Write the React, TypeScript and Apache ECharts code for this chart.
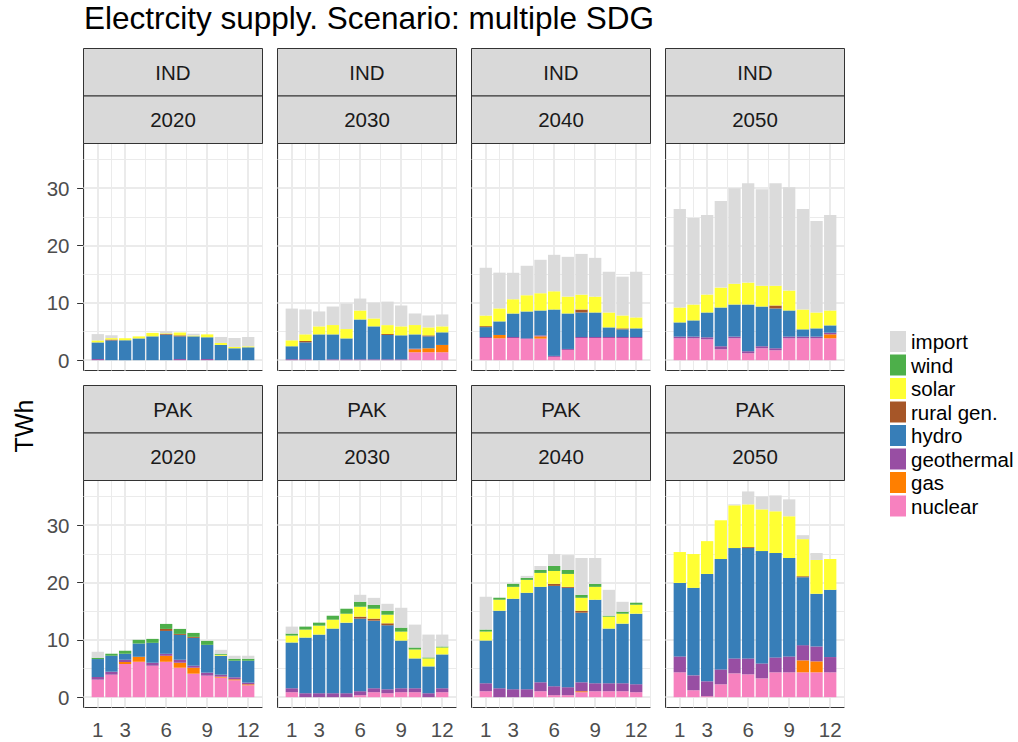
import React, { useEffect, useRef } from "react";
import * as echarts from "echarts";

const FONT = "'Liberation Sans', Arial, Helvetica, sans-serif";

const MONTHS = [1, 2, 3, 4, 5, 6, 7, 8, 9, 10, 11, 12];
const REGIONS = ["IND", "PAK"];
const YEARS = ["2020", "2030", "2040", "2050"];
const X_TICKS = [1, 3, 6, 9, 12];
const Y_TICKS = [0, 10, 20, 30];
const X_MINOR = [0, 2, 4.5, 7.5, 10.5, 13];
const Y_MINOR = [5, 15, 25, 35];

// legend order (top to bottom) and keys
const LEGEND = ["import", "wind", "solar", "rural gen.", "hydro", "geothermal", "gas", "nuclear"];
const KEYS = ["import", "wind", "solar", "rural", "hydro", "geothermal", "gas", "nuclear"];
const COLORS = ["#DBDBDB", "#4DAF4A", "#FFFF33", "#A65628", "#377EB8", "#984EA3", "#FF7F00", "#F781BF"];

const Z = [0, 0, 0, 0, 0, 0, 0, 0, 0, 0, 0, 0];

const IND_2020: Record<string, number[]> = {
  nuclear: Z,
  gas: Z,
  geothermal: [0.2, 0, 0, 0, 0, 0, 0.2, 0, 0.2, 0, 0, 0],
  hydro: [2.9, 3.45, 3.47, 3.8, 4.16, 4.45, 3.96, 4.16, 3.8, 2.66, 2.08, 2.25],
  rural: [0, 0.15, 0, 0, 0, 0.15, 0.17, 0, 0, 0, 0, 0],
  solar: [0.35, 0.25, 0.35, 0.35, 0.6, 0.1, 0.5, 0.15, 0.5, 0.35, 0.23, 0.17],
  wind: Z,
  import: [1.1, 0.5, 0, 0, 0, 0.35, 0, 0.3, 0, 1.04, 1.56, 1.62],
};

const IND_2030: Record<string, number[]> = {
  nuclear: [0, 0, 0, 0, 0, 0, 0, 0, 0, 1.39, 1.39, 1.39],
  gas: [0, 0, 0, 0, 0, 0, 0, 0, 0, 0.52, 0.69, 1.27],
  geothermal: [0.17, 0.17, 0, 0.15, 0.15, 0.15, 0.15, 0.15, 0.15, 0.1, 0, 0],
  hydro: [2.26, 2.95, 4.5, 4.35, 3.65, 6.95, 5.75, 4.24, 4.19, 2.49, 2.08, 2.2],
  rural: [0, 0.23, 0, 0, 0, 0, 0, 0.17, 0, 0, 0.17, 0],
  solar: [1.04, 1.16, 1.4, 1.63, 1.63, 1.57, 1.38, 1.56, 1.56, 1.63, 1.39, 1.04],
  wind: Z,
  import: [5.53, 4.34, 2.6, 3.23, 4.45, 2.08, 2.78, 4.1, 3.64, 2.02, 2.08, 2.08],
};

const IND_2040: Record<string, number[]> = {
  nuclear: [3.87, 3.82, 3.87, 3.7, 3.76, 0.58, 1.79, 3.87, 3.87, 3.87, 3.87, 3.87],
  gas: [0, 0.58, 0, 0, 0.4, 0, 0, 0, 0, 0, 0, 0],
  geothermal: [0.17, 0, 0.17, 0.12, 0.17, 0.17, 0.17, 0.17, 0.17, 0.17, 0.17, 0.17],
  hydro: [1.73, 2.37, 4.1, 4.68, 4.34, 8.09, 6.19, 4.28, 4.28, 1.68, 1.34, 1.51],
  rural: [0.17, 0, 0, 0, 0, 0, 0, 0.52, 0, 0, 0.17, 0],
  solar: [1.85, 2.26, 2.49, 2.83, 3.01, 3.18, 2.95, 2.6, 2.77, 2.6, 2.25, 1.91],
  wind: Z,
  import: [8.33, 6.24, 4.62, 5.14, 5.83, 6.36, 6.93, 7.1, 6.76, 7.11, 6.77, 7.97],
};

const IND_2050: Record<string, number[]> = {
  nuclear: [3.82, 3.82, 3.64, 1.91, 3.82, 1.21, 2.08, 1.73, 3.82, 3.82, 3.82, 3.82],
  gas: [0, 0, 0, 0, 0, 0, 0, 0, 0, 0, 0, 0.69],
  geothermal: [0.29, 0.29, 0.35, 0.52, 0.29, 0.35, 0.35, 0.35, 0.29, 0.29, 0.29, 0.29],
  hydro: [2.48, 2.83, 4.33, 6.76, 5.6, 8.15, 6.93, 6.94, 4.56, 1.27, 1.44, 1.27],
  rural: [0, 0, 0, 0, 0, 0, 0, 0.52, 0, 0, 0, 0],
  solar: [2.6, 2.77, 3.13, 3.47, 3.64, 3.82, 3.64, 3.46, 3.47, 3.46, 2.77, 2.6],
  wind: Z,
  import: [17.17, 15.09, 13.87, 15.09, 16.65, 17.34, 16.83, 17.87, 18.03, 17.52, 15.96, 16.65],
};

const PAK_2020: Record<string, number[]> = {
  nuclear: [3.06, 3.93, 5.78, 6.18, 5.49, 6.18, 5.14, 4.1, 3.76, 3.41, 2.95, 2.08],
  gas: [0, 0, 0.35, 0.87, 0, 1.04, 0.87, 1.04, 0, 0.17, 0.17, 0.17],
  geothermal: [0.46, 0.52, 0.4, 0, 0.52, 0.35, 0.52, 0.35, 0.52, 0.35, 0.35, 0.29],
  hydro: [3.13, 2.78, 1.04, 2.31, 3.47, 3.99, 4.34, 4.86, 4.85, 3.3, 2.89, 3.82],
  rural: [0, 0, 0, 0, 0, 0.35, 0.17, 0.17, 0, 0, 0, 0],
  solar: [0, 0, 0, 0, 0, 0, 0, 0, 0, 0.17, 0, 0],
  wind: [0.23, 0.35, 0.52, 0.64, 0.69, 0.87, 0.87, 0.69, 0.69, 0.17, 0.35, 0.35],
  import: [1.04, 0, 0, 0, 0, 0, 0, 0, 0, 0.69, 0.52, 0.52],
};

const PAK_2030: Record<string, number[]> = {
  nuclear: [0.87, 0, 0, 0, 0, 0.35, 0.87, 0.69, 0.87, 0.87, 0, 0.87],
  gas: Z,
  geothermal: [0.69, 0.69, 0.69, 0.69, 0.69, 0.69, 0.69, 0.69, 0.69, 0.69, 0.69, 0.69],
  hydro: [7.98, 9.71, 10.23, 11.27, 12.31, 12.66, 11.79, 11.16, 8.32, 5.2, 4.68, 5.9],
  rural: [0, 0, 0, 0, 0, 0.35, 0.35, 0.35, 0, 0, 0, 0],
  solar: [1.21, 1.39, 1.56, 1.56, 1.56, 1.73, 1.73, 1.5, 1.56, 1.56, 1.39, 1.21],
  wind: [0.35, 0.52, 0.52, 0.69, 0.87, 0.87, 0.69, 0.69, 0.69, 0.35, 0.17, 0.17],
  import: [1.21, 0, 0, 0, 0, 1.21, 1.21, 1.21, 3.47, 3.99, 3.99, 2.08],
};

const PAK_2040: Record<string, number[]> = {
  nuclear: [1.04, 0, 0, 0, 1.04, 0.35, 0.35, 0.87, 1.04, 1.04, 1.04, 0.87],
  gas: [0, 0, 0, 0, 0, 0, 0, 0.17, 0, 0, 0, 0],
  geothermal: [1.39, 1.56, 1.39, 1.39, 1.56, 1.56, 1.39, 1.56, 1.39, 1.39, 1.39, 1.39],
  hydro: [7.46, 13.53, 15.78, 16.82, 16.65, 17.51, 17.34, 12.14, 14.57, 9.54, 10.4, 12.31],
  rural: [0, 0, 0, 0, 0, 0.35, 0.17, 0.35, 0, 0, 0, 0],
  solar: [1.56, 1.91, 2.08, 2.25, 2.43, 2.25, 2.25, 2.25, 2.25, 2.08, 1.73, 1.56],
  wind: [0.35, 0.35, 0.52, 0.35, 0.52, 0.87, 0.69, 0.52, 0.52, 0.17, 0.35, 0.35],
  import: [5.72, 0, 0, 0.35, 0.69, 2.08, 2.6, 6.42, 4.51, 4.51, 1.73, 0],
};

const PAK_2050: Record<string, number[]> = {
  nuclear: [4.34, 1.21, 0.17, 2.25, 4.16, 3.99, 3.29, 4.34, 4.34, 4.34, 4.34, 4.34],
  gas: [0, 0, 0, 0, 0, 0, 0, 0, 0, 2.08, 1.91, 0],
  geothermal: [2.77, 2.6, 2.6, 2.6, 2.6, 2.77, 2.6, 2.6, 2.77, 2.66, 2.6, 2.66],
  hydro: [12.83, 15.26, 18.73, 19.25, 19.25, 19.25, 19.6, 18.21, 17.17, 11.85, 9.19, 11.73],
  rural: [0, 0, 0, 0, 0, 0.17, 0, 0, 0, 0.17, 0, 0],
  solar: [5.38, 5.9, 5.72, 6.76, 7.46, 7.46, 7.28, 7.28, 7.28, 6.47, 5.9, 5.38],
  wind: Z,
  import: [0, 0, 0, 0, 0.17, 2.25, 2.25, 2.77, 2.95, 0.69, 1.21, 0],
};

const PANELS = [
  [IND_2020, IND_2030, IND_2040, IND_2050],
  [PAK_2020, PAK_2030, PAK_2040, PAK_2050],
];

// layout (pixels)
const COL_LEFT = [83.5, 277.5, 471.5, 665.5];
const PANEL_W = 179;
const ROW_TOP = [143.5, 480.5];
const PANEL_H = 227;
const STRIP_H = 47.5;

function buildOption() {
  const grids: any[] = [];
  const xAxes: any[] = [];
  const yAxes: any[] = [];
  const series: any[] = [];
  const graphics: any[] = [];

  const gridLines = [
    ...X_TICKS.map((v) => ({ xAxis: v, lineStyle: { width: 2 } })),
    ...X_MINOR.map((v) => ({ xAxis: v, lineStyle: { width: 1 } })),
    ...Y_TICKS.map((v) => ({ yAxis: v, lineStyle: { width: 2 } })),
    ...Y_MINOR.map((v) => ({ yAxis: v, lineStyle: { width: 1 } })),
  ];

  let idx = 0;
  for (let r = 0; r < 2; r++) {
    for (let c = 0; c < 4; c++) {
      const left = COL_LEFT[c];
      const top = ROW_TOP[r];
      grids.push({
        left,
        top,
        width: PANEL_W,
        height: PANEL_H,
        show: true,
        backgroundColor: "#FFFFFF",
        borderColor: "#333333",
        borderWidth: 1,
        containLabel: false,
      });
      xAxes.push({
        type: "value",
        gridIndex: idx,
        min: -0.045,
        max: 13.045,
        axisLine: { show: false },
        splitLine: { show: false },
        axisTick: {
          show: r === 1,
          customValues: X_TICKS,
          length: 7,
          lineStyle: { color: "#333333", width: 1 },
        },
        axisLabel: {
          show: r === 1,
          customValues: X_TICKS,
          margin: 11,
          fontSize: 20.5,
          color: "#4D4D4D",
          fontFamily: FONT,
        },
      });
      yAxes.push({
        type: "value",
        gridIndex: idx,
        min: -1.8,
        max: 37.8,
        axisLine: { show: false },
        splitLine: { show: false },
        axisTick: {
          show: c === 0,
          customValues: Y_TICKS,
          length: 7,
          lineStyle: { color: "#333333", width: 1 },
        },
        axisLabel: {
          show: c === 0,
          customValues: Y_TICKS,
          margin: 14,
          fontSize: 20.5,
          color: "#4D4D4D",
          fontFamily: FONT,
        },
      });

      const panel = PANELS[r][c];
      // stack bottom -> top; value first in each item so that the stack runs on the y value
      for (let k = KEYS.length - 1; k >= 0; k--) {
        const key = KEYS[k];
        const vals = panel[key];
        const s: any = {
          type: "bar",
          name: LEGEND[k],
          xAxisIndex: idx,
          yAxisIndex: idx,
          stack: "p" + idx,
          barWidth: "90%",
          z: 2,
          encode: { x: 1, y: 0 },
          itemStyle: { color: COLORS[k] },
          data: MONTHS.map((m, i) => [vals[i], m]),
        };
        if (k === KEYS.length - 1) {
          s.markLine = {
            silent: true,
            symbol: "none",
            z: 1,
            label: { show: false },
            animation: false,
            lineStyle: { color: "#EBEBEB", type: "solid" },
            data: gridLines,
          };
        }
        series.push(s);
      }

      // strips
      const labels = [REGIONS[r], YEARS[c]];
      for (let s = 0; s < 2; s++) {
        const sy = top - STRIP_H * (2 - s);
        graphics.push({
          type: "rect",
          shape: { x: left, y: sy, width: PANEL_W, height: STRIP_H },
          style: { fill: "#D9D9D9", stroke: "#333333", lineWidth: 1 },
          z: 10,
        });
        graphics.push({
          type: "text",
          x: left + PANEL_W / 2,
          y: sy + STRIP_H / 2,
          style: {
            text: labels[s],
            fill: "#1A1A1A",
            font: `20.5px ${FONT}`,
            textAlign: "center",
            textVerticalAlign: "middle",
          },
          z: 11,
        });
      }
      idx++;
    }
  }

  graphics.push({
    type: "text",
    x: 23.5,
    y: 426,
    rotation: Math.PI / 2,
    style: {
      text: "TWh",
      fill: "#000000",
      font: `25px ${FONT}`,
      textAlign: "center",
      textVerticalAlign: "middle",
    },
  });

  return {
    animation: false,
    backgroundColor: "#FFFFFF",
    title: {
      text: "Electrcity supply. Scenario: multiple SDG",
      left: 84,
      top: 2,
      padding: 0,
      textStyle: { fontSize: 31.5, fontWeight: "normal", color: "#000000", fontFamily: FONT },
    },
    legend: {
      data: LEGEND,
      orient: "vertical",
      left: 890,
      top: 331,
      padding: 0,
      itemWidth: 16,
      itemHeight: 21,
      itemGap: 2.5,
      icon: "rect",
      selectedMode: false,
      textStyle: { fontSize: 20.5, color: "#000000", fontFamily: FONT, lineHeight: 21 },
    },
    grid: grids,
    xAxis: xAxes,
    yAxis: yAxes,
    series,
    graphic: graphics,
  };
}

export default function App() {
  const ref = useRef<HTMLDivElement>(null);
  useEffect(() => {
    if (!ref.current) return;
    const chart = echarts.init(ref.current, undefined, { renderer: "svg" });
    chart.setOption(buildOption() as any);
    return () => chart.dispose();
  }, []);
  return (
    <div
      ref={ref}
      style={{ position: "absolute", left: 0, top: 0, width: 1018, height: 742, background: "#fff" }}
    />
  );
}
